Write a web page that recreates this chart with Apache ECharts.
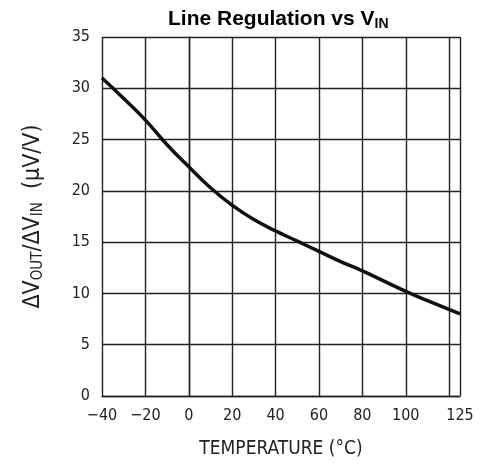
<!DOCTYPE html>
<html>
<head>
<meta charset="utf-8">
<script src="https://cdn.jsdelivr.net/npm/echarts@6/dist/echarts.min.js"></script>
<style>html,body{margin:0;padding:0;background:#fff;}#c{width:490px;height:476px;}</style>
</head>
<body>
<div id="c"></div>
<script>
const temperature = [-40, -30, -20, -10, 0, 10, 20, 30, 40, 50, 60, 70, 80, 90, 100, 110, 125];
const lineRegulation = [31.0, 29.0, 26.9, 24.5, 22.35, 20.3, 18.6, 17.2, 16.1, 15.1, 14.1, 13.1, 12.2, 11.2, 10.2, 9.3, 8.0];
const xTickLabels = [-40, -20, 0, 20, 40, 60, 80, 100, 125];
const yTickLabels = [0, 5, 10, 15, 20, 25, 30, 35];

const tickFont = '"DejaVu Sans Condensed", "Liberation Sans Narrow", "DejaVu Sans", sans-serif';
const chart = echarts.init(document.getElementById('c'));
chart.setOption({
  animation: false,
  backgroundColor: '#fff',
  title: {
    text: 'Line Regulation vs V{s|IN}',
    left: 163, top: 2,
    textStyle: {
      fontFamily: '"Liberation Sans", Arial, sans-serif', fontWeight: 'bold', fontSize: 21, color: '#000',
      rich: { s: { fontFamily: '"Liberation Sans", Arial, sans-serif', fontWeight: 'bold', fontSize: 14, color: '#000', padding: [10, 0, 0, 0] } }
    }
  },
  grid: { left: 102, right: 30, top: 37, bottom: 80 },
  xAxis: {
    type: 'value', min: -40, max: 125, interval: 20,
    name: 'TEMPERATURE (°C)', nameLocation: 'middle', nameGap: 44,
    nameTextStyle: { fontFamily: tickFont, fontSize: 19, color: '#222' },
    axisLine: { show: true, lineStyle: { color: '#222', width: 1.4 } },
    axisTick: { show: false },
    axisLabel: {
      fontFamily: tickFont, fontSize: 16, color: '#222', margin: 12, hideOverlap: false, showMaxLabel: true,
      formatter: v => xTickLabels.includes(v) ? (v < 0 ? '\u2212' + Math.abs(v) : String(v)) : ''
    },
    splitLine: { show: true, lineStyle: { color: '#222', width: 1.4 } }
  },
  yAxis: {
    type: 'value', min: 0, max: 35, interval: 5,
    name: '\u0394V{s|OUT}/\u0394V{s|IN}  (\u03bcV/V)', nameLocation: 'middle', nameGap: 56, nameRotate: 90,
    nameTextStyle: {
      fontFamily: tickFont, fontSize: 23, color: '#222',
      rich: { s: { fontFamily: tickFont, fontSize: 15, color: '#222', padding: [10, 0, 0, 0] } }
    },
    axisLine: { show: true, lineStyle: { color: '#222', width: 1.4 } },
    axisTick: { show: true, length: 3, lineStyle: { color: '#222' } },
    axisLabel: {
      fontFamily: tickFont, fontSize: 16, color: '#222', margin: 12,
      formatter: v => yTickLabels.includes(v) ? String(v) : ''
    },
    splitLine: { show: true, lineStyle: { color: '#222', width: 1.4 } }
  },
  series: [{
    type: 'line', smooth: true, symbol: 'none',
    data: temperature.map((t, i) => [t, lineRegulation[i]]),
    lineStyle: { color: '#111', width: 3.5 }
  }]
});
</script>
</body>
</html>
